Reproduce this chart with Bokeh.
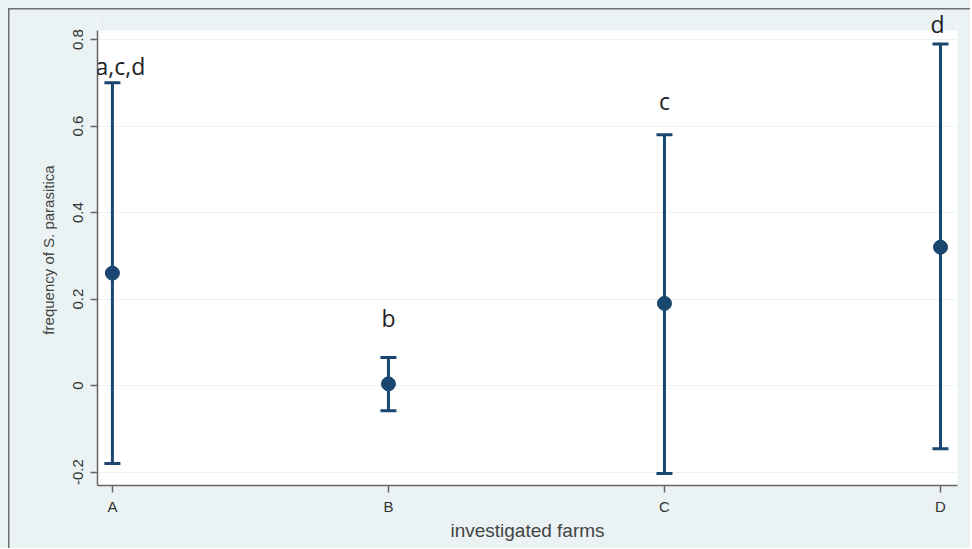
from bokeh.plotting import figure
from bokeh.models import (ColumnDataSource, Whisker, TeeHead, FixedTicker,
                          CustomJSTickFormatter, LabelSet, Range1d, BoxAnnotation)
from bokeh.core.properties import value
from bokeh.embed import file_html
from bokeh.resources import INLINE

# ---- data ----
farms = ["A", "B", "C", "D"]
farm_pos = [1, 2, 3, 4]
means = [0.26, 0.004, 0.19, 0.32]
upper = [0.70, 0.065, 0.58, 0.79]
lower = [-0.18, -0.058, -0.203, -0.146]
letters = ["a,c,d", "b", "c", "d"]
letter_y = [0.74, 0.157, 0.659, 0.836]
letter_dx = [8, 0, 0, -3]
y_ticks = [-0.2, 0, 0.2, 0.4, 0.6, 0.8]

Y_LO, Y_HI = -0.231, 0.821      # plot region of the reference
Y_TOP = 0.858                    # room above for the "d" letter

NAVY = "#1a476f"
BG = "#eaf2f3"

src = ColumnDataSource(dict(x=farm_pos, mean=means, upper=upper, lower=lower))
lab = ColumnDataSource(dict(x=farm_pos, y=letter_y, text=letters, dx=letter_dx))

p = figure(width=970, height=548, output_backend="svg", toolbar_location=None,
           x_range=Range1d(0.946, 4.0616), y_range=Range1d(Y_LO, Y_TOP),
           min_border_left=97, min_border_right=13, min_border_top=14,
           min_border_bottom=63)
p.border_fill_color = BG
p.border_fill_alpha = 0
p.background_fill_color = "white"
p.outline_line_color = None
p.styles = {
    "background-color": BG,
    "background-image": "linear-gradient(#6f6f6f,#6f6f6f), linear-gradient(#6f6f6f,#6f6f6f)",
    "background-size": "1.5px 100%, 100% 1.5px",
    "background-position": "8px 8px, 8px 8px",
    "background-repeat": "no-repeat",
}

# strip above the plot region keeps the outer background colour
p.add_layout(BoxAnnotation(bottom=Y_HI, fill_color=BG, fill_alpha=1,
                           line_color=None, level="underlay"))

# grid
p.xgrid.grid_line_color = None
p.ygrid.grid_line_color = "#eaf2f3"
p.ygrid.grid_line_width = 1.2

# error bars
w = Whisker(source=src, base="x", upper="upper", lower="lower",
            dimension="height", line_color=NAVY, line_width=3,
            upper_head=TeeHead(size=16, line_color=NAVY, line_width=3),
            lower_head=TeeHead(size=16, line_color=NAVY, line_width=3),
            level="glyph")
p.add_layout(w)
p.scatter("x", "mean", source=src, size=14, color=NAVY)

# significance letters
ls = LabelSet(source=lab, x="x", y="y", text="text", x_offset="dx",
              text_align="center", text_baseline="middle",
              text_font=value("Open Sans"), text_font_size="23px",
              text_color="#1e1e1e", level="overlay")
p.add_layout(ls)

# axes
p.xaxis.ticker = FixedTicker(ticks=farm_pos)
p.xaxis.major_label_overrides = {i: f for i, f in zip(farm_pos, farms)}
p.yaxis.ticker = FixedTicker(ticks=y_ticks)
p.yaxis.formatter = CustomJSTickFormatter(
    code="return (Math.round(tick*10)/10).toString();")
p.yaxis.major_label_orientation = "vertical"
p.yaxis.bounds = (Y_LO, Y_HI)

for ax in (p.xaxis[0], p.yaxis[0]):
    ax.axis_line_color = "#666666"
    ax.axis_line_width = 1.5
    ax.major_tick_line_color = "#666666"
    ax.major_tick_line_width = 1.5
    ax.major_tick_in = 0
    ax.major_tick_out = 7
    ax.minor_tick_line_color = None
    ax.major_label_text_font = "Liberation Sans"
    ax.major_label_text_font_size = "15px"
    ax.major_label_text_color = "#333333"
    ax.axis_label_text_font = "Liberation Sans"
    ax.axis_label_text_font_style = "normal"
    ax.axis_label_text_color = "#444444"

p.xaxis.axis_label = "investigated farms"
p.xaxis.axis_label_text_font_size = "19px"
p.xaxis.major_label_standoff = 5
p.xaxis.axis_label_standoff = 2

p.yaxis.axis_label = "frequency of S. parasitica"
p.yaxis.axis_label_text_font_size = "15px"
p.yaxis.major_label_standoff = 7
p.yaxis.axis_label_standoff = 14

open("out.html", "w").write(file_html(p, INLINE))
